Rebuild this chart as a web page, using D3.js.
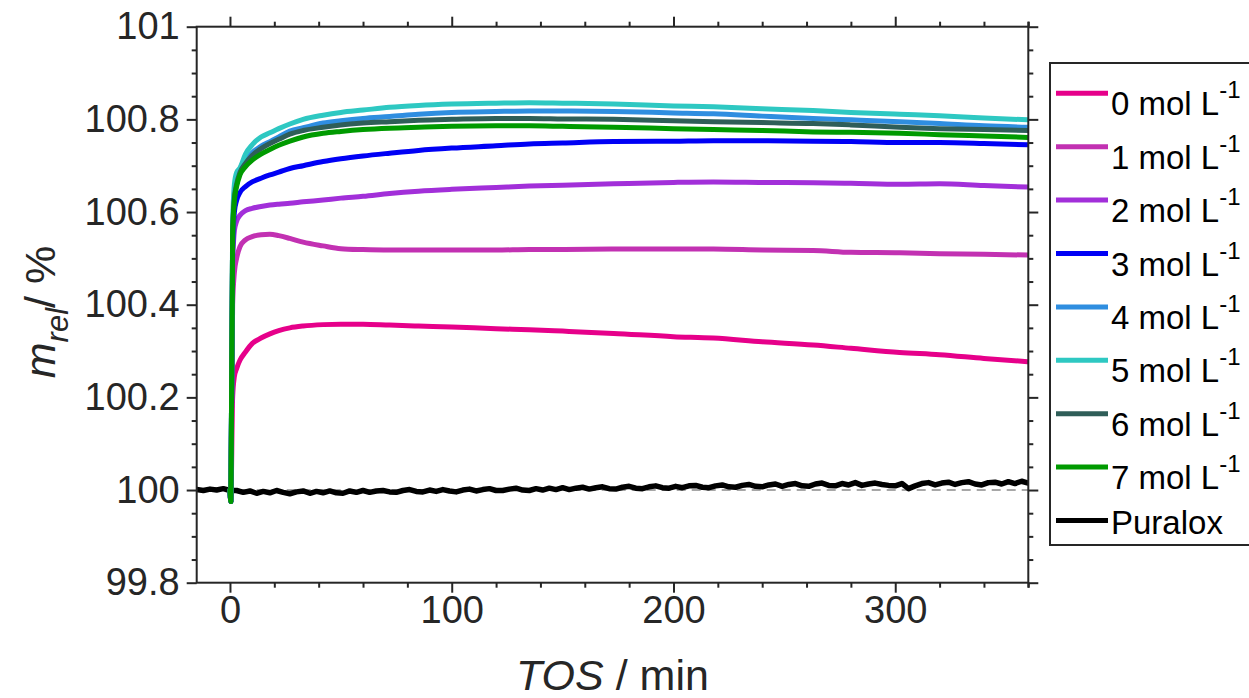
<!DOCTYPE html>
<html><head><meta charset="utf-8">
<script src="https://cdn.jsdelivr.net/npm/d3@7"></script>
<style>
body{margin:0;background:#fff}
svg{display:block}
text{font-family:"Liberation Sans",Arial,Helvetica,sans-serif;fill:#262626}
</style>
</head><body>
<svg id="chart" width="1249" height="698"></svg>
<script>
// ---------------- data ----------------
const times = [0, 0.4, 1.2, 2, 3, 4.5, 7, 10, 14, 18, 22, 27, 33, 42, 50, 60, 72, 85, 100, 120, 135, 150, 173, 200, 218, 240, 263, 280, 302, 320, 340, 360];
const seriesNames = ["0 mol L", "1 mol L", "2 mol L", "3 mol L", "4 mol L", "5 mol L", "6 mol L", "7 mol L"];
const s0 = [0,-0.025,0.20,0.245,0.262,0.280,0.298,0.316,0.328,0.337,0.344,0.350,0.354,0.357,0.358,0.358,0.356,0.354,0.352,0.348,0.346,0.343,0.338,0.331,0.328,0.320,0.313,0.306,0.297,0.292,0.284,0.277];
const s1 = [0,-0.025,0.40,0.47,0.50,0.525,0.540,0.547,0.551,0.552,0.549,0.543,0.535,0.527,0.521,0.519,0.518,0.518,0.518,0.518,0.519,0.519,0.520,0.520,0.520,0.518,0.517,0.513,0.512,0.510,0.509,0.507];
const s2 = [0,-0.025,0.48,0.56,0.58,0.593,0.603,0.608,0.612,0.615,0.617,0.619,0.622,0.626,0.630,0.634,0.640,0.645,0.649,0.653,0.656,0.658,0.661,0.664,0.665,0.664,0.663,0.662,0.660,0.661,0.657,0.654];
const s3 = [0,-0.025,0.52,0.60,0.625,0.642,0.655,0.665,0.673,0.680,0.686,0.694,0.700,0.709,0.715,0.721,0.727,0.733,0.738,0.743,0.747,0.749,0.752,0.753,0.754,0.754,0.753,0.752,0.750,0.750,0.748,0.745];
const s4 = [0,-0.025,0.55,0.64,0.67,0.693,0.712,0.728,0.742,0.752,0.762,0.775,0.782,0.792,0.797,0.802,0.806,0.811,0.815,0.817,0.818,0.818,0.817,0.814,0.812,0.807,0.802,0.799,0.795,0.791,0.786,0.783];
const s5 = [0,-0.025,0.57,0.66,0.685,0.695,0.725,0.745,0.762,0.771,0.780,0.790,0.800,0.809,0.815,0.820,0.826,0.830,0.833,0.835,0.836,0.835,0.833,0.829,0.827,0.823,0.819,0.815,0.811,0.808,0.803,0.799];
const s6 = [0,-0.025,0.55,0.63,0.66,0.685,0.705,0.722,0.737,0.748,0.757,0.768,0.776,0.783,0.788,0.792,0.795,0.798,0.800,0.802,0.802,0.801,0.800,0.797,0.795,0.793,0.791,0.788,0.783,0.780,0.778,0.776];
const s7 = [0,-0.025,0.55,0.625,0.655,0.680,0.698,0.712,0.725,0.735,0.744,0.753,0.762,0.770,0.774,0.778,0.781,0.783,0.785,0.786,0.786,0.785,0.783,0.780,0.778,0.776,0.773,0.772,0.770,0.767,0.764,0.761];
// Puralox reference: every 3 min from -15 to 360, offset in 0.001 %
const puraloxStart = -15, puraloxStep = 3;
const puralox = [1,-1,2,0,3,-1,
 -1,-5,-2,-7,-3,-6,-1,-5,-8,-4,-2,-7,-3,-6,-2,-6,-7,-2,-5,-1,
 -5,-2,-1,-4,-5,-1,1,-3,-4,0,-3,1,-2,-4,0,2,-2,1,3,-1,-1,2,4,0,-1,3,0,4,1,5,
 1,4,6,2,5,7,3,2,6,8,4,3,7,9,5,4,8,5,9,10,6,5,9,11,7,6,10,12,8,7,
 11,13,8,12,14,9,8,13,15,10,9,14,11,16,10,13,15,12,10,9,14,3,9,14,16,11,15,17,12,16,18,13,11,16,17,13,18,14,19,15];
const xTicks = [0, 100, 200, 300];
const yTicks = [99.8, 100, 100.2, 100.4, 100.6, 100.8, 101];
const colors = ["#E6008A", "#C231B2", "#A22FD9", "#0000F5", "#2F8EE0", "#2EC8C2", "#2F5E58", "#009A00"];

// ---------------- layout ----------------
const svg = d3.select("#chart");
const L = 196.7, R = 1028.3, T = 26.7, B = 582.7;
const x = d3.scaleLinear().domain([-15, 360]).range([L, R]);
const y = d3.scaleLinear().domain([99.8, 101]).range([B, T]);
const axisColor = "#262626";

svg.append("clipPath").attr("id","clip").append("rect")
  .attr("x", L).attr("y", T).attr("width", R-L).attr("height", B-T);
const plot = svg.append("g").attr("clip-path","url(#clip)");

// dashed baseline
plot.append("line").attr("x1", x(-15)).attr("x2", x(360)).attr("y1", y(100)).attr("y2", y(100))
  .attr("stroke", "#8a8a8a").attr("stroke-width", 1.5).attr("stroke-dasharray", "9,6");

// Puralox
const pData = puralox.map((v, i) => ({t: puraloxStart + i*puraloxStep, v: 100 + v/1000}));
const linePlain = d3.line().x(d => x(d.t)).y(d => y(d.v));
plot.append("path").datum(pData).attr("d", linePlain)
  .attr("fill","none").attr("stroke","#000").attr("stroke-width",5.5)
  .attr("stroke-linejoin","round").attr("stroke-linecap","round");

// concentration series
const allSeries = [s0, s1, s2, s3, s4, s5, s6, s7];
const lineSmooth = d3.line().x(d => x(d.t)).y(d => y(d.v)).curve(d3.curveMonotoneX);
allSeries.forEach((s, k) => {
  const data = s.map((v, i) => ({t: times[i], v: 100 + v}));
  plot.append("path").datum(data).attr("d", lineSmooth)
    .attr("fill","none").attr("stroke", colors[k]).attr("stroke-width", 5)
    .attr("stroke-linejoin","round").attr("stroke-linecap","round");
});

// ---------------- axes ----------------
const xMinor = d3.range(-0, 361, 20).filter(v => v % 100 !== 0);
const yMinor = d3.range(99.85, 101, 0.05).filter(v => Math.abs(Math.round(v*5) - v*5) > 1e-6);

function styleAxis(g){
  g.select(".domain").remove();
  g.selectAll(".tick line").attr("stroke", axisColor).attr("stroke-width", 2);
  g.selectAll("text").attr("fill", axisColor);
}
// bottom
svg.append("g").attr("transform", `translate(0,${B})`)
  .call(d3.axisBottom(x).tickValues(xTicks).tickSize(10).tickPadding(3).tickFormat(d3.format("d")))
  .call(styleAxis).selectAll("text").style("font-size","38px");
svg.append("g").attr("transform", `translate(0,${B})`)
  .call(d3.axisBottom(x).tickValues(xMinor).tickSize(5).tickFormat("")).call(styleAxis);
// top
svg.append("g").attr("transform", `translate(0,${T})`)
  .call(d3.axisTop(x).tickValues(xTicks).tickSize(10).tickFormat("")).call(styleAxis);
svg.append("g").attr("transform", `translate(0,${T})`)
  .call(d3.axisTop(x).tickValues(xMinor).tickSize(5).tickFormat("")).call(styleAxis);
// left
svg.append("g").attr("transform", `translate(${L},0)`)
  .call(d3.axisLeft(y).tickValues(yTicks).tickSize(10).tickPadding(7).tickFormat(d => String(+d.toFixed(1))))
  .call(styleAxis).selectAll("text").style("font-size","38px");
svg.append("g").attr("transform", `translate(${L},0)`)
  .call(d3.axisLeft(y).tickValues(yMinor).tickSize(5).tickFormat("")).call(styleAxis);
// right
svg.append("g").attr("transform", `translate(${R},0)`)
  .call(d3.axisRight(y).tickValues(yTicks).tickSize(10).tickFormat("")).call(styleAxis);
svg.append("g").attr("transform", `translate(${R},0)`)
  .call(d3.axisRight(y).tickValues(yMinor).tickSize(5).tickFormat("")).call(styleAxis);
[[B, 5], [T, -5]].forEach(([yy, d]) => svg.append("line").attr("x1", x(360)).attr("x2", x(360))
  .attr("y1", yy).attr("y2", yy + d).attr("stroke", axisColor).attr("stroke-width", 2));

// box
svg.append("rect").attr("x", L).attr("y", T).attr("width", R-L).attr("height", B-T)
  .attr("fill","none").attr("stroke", axisColor).attr("stroke-width", 2);

// axis titles
const xl = svg.append("text").attr("x", (L+R)/2).attr("y", 690).attr("text-anchor","middle").style("font-size","43px");
xl.append("tspan").style("font-style","italic").text("TOS");
xl.append("tspan").text(" / min");

const yl = svg.append("text").attr("transform", "translate(55,312) rotate(-90)")
  .attr("text-anchor","middle").style("font-size","43px");
yl.append("tspan").style("font-style","italic").text("m");
yl.append("tspan").style("font-style","italic").style("font-size","31px").attr("dy", 13).text("rel");
yl.append("tspan").attr("dy", -13).text("/ %");

// ---------------- legend ----------------
const lg = svg.append("g");
lg.append("rect").attr("x", 1050).attr("y", 63).attr("width", 200).attr("height", 482)
  .attr("fill","#fff").attr("stroke", axisColor).attr("stroke-width", 2);
const legendItems = seriesNames.map((n, i) => ({name: n, color: colors[i], sup: true}))
  .concat([{name: "Puralox", color: "#000", sup: false}]);
legendItems.forEach((it, i) => {
  const yy = 93.3 + i * 53.4;
  lg.append("line").attr("x1", 1056).attr("x2", 1108).attr("y1", yy).attr("y2", yy)
    .attr("stroke", it.color).attr("stroke-width", 5);
  const t = lg.append("text").attr("x", 1111).attr("y", yy + (it.sup ? 22 : 13)).style("font-size","33px").style("fill","#000");
  t.append("tspan").text(it.name);
  if (it.sup) t.append("tspan").attr("dy", -17).style("font-size","24px").text("-1");
});
</script>
</body></html>
